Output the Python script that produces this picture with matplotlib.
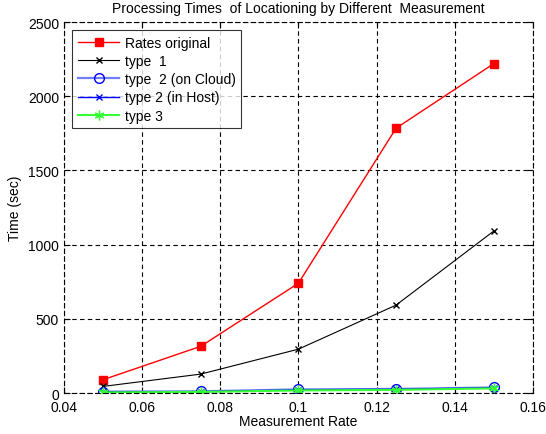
import matplotlib
matplotlib.use('Agg')
import matplotlib.pyplot as plt

plt.rcParams['font.family'] = ['Liberation Sans', 'DejaVu Sans']

# measurement rates and processing times (sec)
rates = [0.05, 0.075, 0.1, 0.125, 0.15]
rates_original = [90, 315, 740, 1785, 2220]
type1 = [45, 128, 296, 593, 1092]
type2_cloud = [10, 12, 25, 28, 38]
type2_host = [8, 10, 22, 26, 36]
type3 = [5, 8, 18, 22, 32]

fig = plt.figure(figsize=(5.46, 4.35), dpi=100)
ax = fig.add_axes([0.117, 0.094, 0.859, 0.853])

ax.plot(rates, rates_original, color='red', marker='s', markersize=6, linewidth=1, label='Rates original')
ax.plot(rates, type1, color='black', marker='x', markersize=5, linewidth=0.8, label='type  1')
ax.plot(rates, type2_cloud, color='#6f7fff', marker='o', markersize=7, markerfacecolor='none',
        markeredgecolor='blue', linewidth=1.6, label='type  2 (on Cloud)')
ax.plot(rates, type2_host, color='blue', marker='x', markersize=5, linewidth=1, label='type 2 (in Host)')
ax.plot(rates, type3, color='#33ff33', marker=(6, 2, 0), markersize=7, linewidth=1.5, label='type 3')

ax.set_xlim(0.04, 0.16)
ax.set_ylim(0, 2500)
ax.set_xticks([0.04, 0.06, 0.08, 0.1, 0.12, 0.14, 0.16])
ax.set_xticklabels(['0.04', '0.06', '0.08', '0.1', '0.12', '0.14', '0.16'])
ax.set_yticks([0, 500, 1000, 1500, 2000, 2500])
ax.tick_params(direction='in', top=True, right=True, labelsize=10, length=4)
ax.tick_params(axis='x', pad=5)
ax.grid(True, color='black', linestyle=(0, (4, 3)), linewidth=0.8)
for s in ax.spines.values():
    s.set_linestyle((0, (4, 3)))
    s.set_linewidth(0.8)

ax.set_title('Processing Times  of Locationing by Different  Measurement', fontsize=10, pad=7)
ax.set_xlabel('Measurement Rate', fontsize=10, labelpad=0)
ax.set_ylabel('Time (sec)', fontsize=10)

leg = ax.legend(loc='upper left', fontsize=10, frameon=True, fancybox=False, edgecolor='black',
                borderaxespad=0.6, handlelength=3.0, handletextpad=0.4, labelspacing=0.3,
                borderpad=0.4)
leg.get_frame().set_linewidth(0.8)

fig.savefig('out.png', dpi=100)
